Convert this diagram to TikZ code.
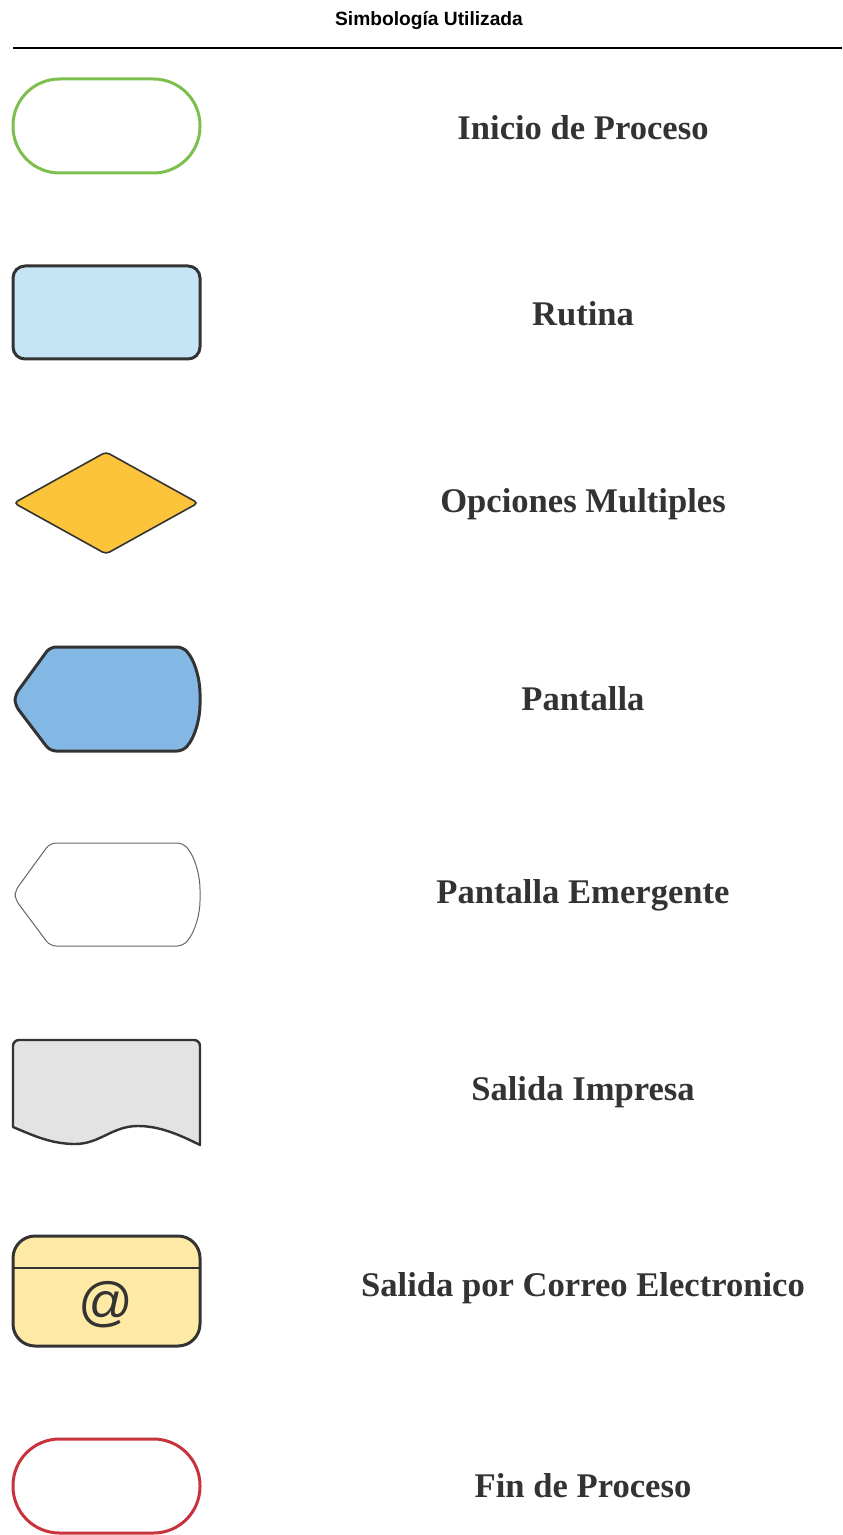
\documentclass[tikz,border=0pt]{standalone}
\usepackage{fontspec}
\setmainfont{Liberation Serif}
\newfontfamily\titlefont{Liberation Sans}
\begin{document}
\begin{tikzpicture}[x=0.5pt,y=-0.5pt]
\definecolor{txt}{HTML}{333333}
\definecolor{edge}{HTML}{333333}
\definecolor{startgreen}{HTML}{7DBF4E}
\definecolor{endred}{HTML}{C8323C}
\definecolor{rutfill}{HTML}{C5E5F7}
\definecolor{diafill}{HTML}{FBC43B}
\definecolor{panfill}{HTML}{82B8E3}
\definecolor{impfill}{HTML}{E3E3E3}
\definecolor{mailfill}{HTML}{FEEAA4}
\tikzset{
  lbl/.style={font=\fontsize{17.3}{19}\selectfont\bfseries, text=txt, inner sep=0pt, anchor=center},
  thick edge/.style={draw=edge, line width=1.5pt},
}
\useasboundingbox (0,0) rectangle (842,1535);
% title
\node[font=\titlefont\fontsize{9.6}{11}\selectfont\bfseries, text=black, inner sep=0pt] (title) at (429,20) {Simbología Utilizada};
\draw[line width=1pt, black] (13,48) -- (842,48);
% 1 inicio
\draw[draw=startgreen, line width=1.5pt, rounded corners=46.5*0.5pt] (13,79) rectangle (200,173);
\node[lbl] (l1) at (583,128) {Inicio de Proceso};
% 2 rutina
\draw[thick edge, fill=rutfill, rounded corners=6pt] (13,266) rectangle (200,359);
\node[lbl] (l2) at (583,314) {Rutina};
% 3 diamond
\draw[draw=edge, line width=0.8pt, fill=diafill, rounded corners=2pt] (106,452) -- (198,503) -- (106,554) -- (14,503) -- cycle;
\node[lbl] (l3) at (583,504) {Opciones Multiples};
% 4 pantalla
\draw[thick edge, fill=panfill, rounded corners=3pt] (50,647) -- (183,647) .. controls (196,662) and (200,682) .. (200,699) .. controls (200,716) and (196,736) .. (183,751) -- (50,751) -- (15,705) -- (15,695) -- cycle;
\node[lbl] (l4) at (583,699) {Pantalla};
% 5 pantalla emergente
\draw[draw=black!60, line width=0.5pt, fill=white, rounded corners=3pt] (50,843) -- (183,843) .. controls (196,858) and (200,878) .. (200,895) .. controls (200,912) and (196,931) .. (183,946) -- (50,946) -- (15,899) -- (15,891) -- cycle;
\node[lbl] (l5) at (583,895) {Pantalla Emergente};
% 6 salida impresa
\draw[draw=edge, line width=1.2pt, fill=impfill, line join=round] (13,1127) -- (13,1046) [rounded corners=3pt] -- (13,1040) -- (200,1040) [sharp corners] -- (200,1145) .. controls (180,1135) and (160,1126) .. (138,1126) .. controls (112,1126) and (100,1144) .. (75,1144) .. controls (50,1144) and (30,1134) .. (13,1127) -- cycle;
\node[lbl] (l6) at (583,1092) {Salida Impresa};
% 7 correo
\draw[thick edge, fill=mailfill, rounded corners=11pt] (13,1236) rectangle (200,1346);
\draw[draw=edge, line width=1.2pt] (13,1268) -- (200,1268);
\node[font=\titlefont\fontsize{27}{29}\selectfont, text=edge, inner sep=0pt] (at) at (106,1305) {@};
\node[lbl] (l7) at (583,1288) {Salida por Correo Electronico};
% 8 fin
\draw[draw=endred, line width=1.5pt, rounded corners=46.5*0.5pt] (13,1439) rectangle (200,1533);
\node[lbl] (l8) at (583,1486) {Fin de Proceso};
\end{tikzpicture}
\end{document}
